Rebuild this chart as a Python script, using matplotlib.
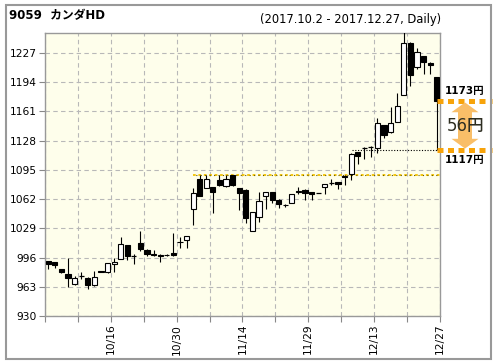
import matplotlib
matplotlib.use('Agg')
import matplotlib.pyplot as plt
import matplotlib.patches as mpatches
import numpy as np

dates = ['10/2', '10/3', '10/4', '10/5', '10/6', '10/10', '10/11', '10/12', '10/13',
         '10/16', '10/17', '10/18', '10/19', '10/20', '10/23', '10/24', '10/25', '10/26',
         '10/27', '10/30', '10/31', '11/1', '11/2', '11/6', '11/7', '11/8', '11/9',
         '11/10', '11/13', '11/14', '11/15', '11/16', '11/17', '11/20', '11/21', '11/22',
         '11/24', '11/27', '11/28', '11/29', '11/30', '12/1', '12/4', '12/5', '12/6',
         '12/7', '12/8', '12/11', '12/12', '12/13', '12/14', '12/15', '12/18', '12/19',
         '12/20', '12/21', '12/22', '12/25', '12/26', '12/27']
opens = [992, 990.5, 983, 977, 966, 975.5, 972.5, 964.5, 980.5, 979.5,
         988.5, 994, 1010.5, 998, 1012, 1004.5, 1000, 999, 999, 1001,
         1013, 1016, 1050.5, 1085, 1074.5, 1076, 1084, 1077, 1089, 1074.5,
         1072.5, 1026, 1042, 1066, 1070, 1061, 1055.5, 1057.5, 1071.5, 1072.5,
         1069.5, 1068.5, 1076, 1080, 1081, 1088.5, 1090, 1115.5, 1120, 1120.5,
         1120, 1145.5, 1137.5, 1149, 1179, 1238.5, 1211, 1223, 1216, 1200]
highs = [992.5, 991.5, 983.5, 996, 975.5, 979.5, 973.5, 981, 980.5, 990,
         995, 1019, 1010.5, 1000, 1026.5, 1005.5, 1004.5, 999.5, 999.5, 1024,
         1019.5, 1020.5, 1074.5, 1089, 1089, 1076, 1089, 1089, 1089.5, 1074.5,
         1073, 1047.5, 1069.5, 1070, 1070.5, 1061.5, 1056, 1068, 1076, 1073,
         1069.5, 1069, 1079.5, 1085, 1081.5, 1089, 1113.5, 1115.5, 1120.5, 1122,
         1154, 1146, 1166, 1181.5, 1262, 1239, 1233, 1223, 1217, 1200]
lows = [983, 984, 979, 962.5, 965.5, 972, 961, 963.5, 979.5, 979,
        980, 994, 993.5, 988.5, 1003, 998, 998, 991.5, 998, 998,
        1006.5, 1006.5, 1033, 1066, 1074, 1046, 1077, 1076, 1077, 1050,
        1035.5, 1025.5, 1036.5, 1050.5, 1058, 1052, 1053, 1057, 1067.5, 1061,
        1060.5, 1068.5, 1067.5, 1078, 1073, 1077.5, 1084, 1102, 1107, 1109.5,
        1113.5, 1131, 1137, 1148.5, 1179, 1189.5, 1208.5, 1203, 1203, 1117]
closes = [988.5, 987.5, 979.5, 972.5, 972.5, 975.5, 964.5, 974.5, 979.5, 989.5,
          991.5, 1011, 998, 998, 1005.5, 1000, 998.5, 998, 998.5, 998.5,
          1014, 1020.5, 1068.5, 1066, 1084.5, 1070.5, 1077.5, 1084.5, 1077.5, 1068.5,
          1041, 1047, 1060, 1070, 1060.5, 1056.5, 1055, 1067.5, 1069.5, 1068.5,
          1068, 1068.5, 1079, 1080, 1078.5, 1087, 1113, 1111, 1120, 1120.5,
          1147.5, 1134.5, 1147.5, 1167, 1238.5, 1202, 1228.5, 1217, 1213.5, 1173]

yticks = [930, 963, 996, 1029, 1062, 1095, 1128, 1161, 1194, 1227]
label_dates = ['10/16', '10/30', '11/14', '11/29', '12/13', '12/27']
resist_level = 1089.5
resist_start = 22
low_start = 46.1
last_close = 1173
last_low = 1117

FONT = ['DejaVu Sans', 'Noto Sans CJK JP']
plt.rcParams['font.family'] = FONT

W, H = 496, 364
fig = plt.figure(figsize=(W / 100, H / 100), dpi=100)
fig.patch.set_facecolor('white')
L, R, T, B = 45, 440, 32.5, 316
ax = fig.add_axes([L / W, 1 - B / H, (R - L) / W, (B - T) / H])
ax.set_facecolor('#FEFEEB')

n = len(dates)
x = np.arange(n)
o = np.array(opens); h = np.array(highs); l = np.array(lows); c = np.array(closes)

# grid
ax.set_ylim(930, 1250)
ax.set_xlim(-0.5, n - 0.5)
ax.set_yticks(yticks)
ax.set_yticklabels([str(v) for v in yticks])
xt = np.arange(-0.5, n, 5)
ax.set_xticks(xt)
lbl = []
for t in xt:
    i = int(t + 0.5) - 1
    d = dates[i] if i >= 0 else ''
    lbl.append(d if d in label_dates else '')
ax.set_xticklabels(lbl, rotation=90, ha='center', va='top')
ax.grid(True, linestyle=(0, (4, 3)), color='#b8b8b8', linewidth=0.8)
ax.set_axisbelow(True)
for s in ax.spines.values():
    s.set_color('#999999')
    s.set_linewidth(1.0)
ax.tick_params(axis='both', direction='out', length=4, width=0.8, color='#888888',
               labelsize=7.7, labelcolor='black')
ax.tick_params(axis='y', pad=2)
ax.tick_params(axis='x', pad=1.5)

# reference lines
ax.plot([resist_start, n - 0.5], [resist_level, resist_level], color='#F2C200',
        linestyle=(0, (1.5, 1.5)), linewidth=1.3, zorder=2, solid_capstyle='butt')
ax.plot([resist_start, n - 0.5], [resist_level, resist_level], color='#6a5a00',
        linestyle=(1.5, (1.0, 3.0)), linewidth=0.8, zorder=2)
ax.plot([low_start, n - 0.5], [last_low, last_low], color='black',
        linestyle=(0, (1, 1.5)), linewidth=0.8, zorder=2)

# candles
ax.vlines(x, l, h, color='black', linewidth=0.8, zorder=3)
wbody = 0.78
up = c >= o
bottoms = np.minimum(o, c)
heights = np.abs(c - o)
for i in range(n):
    if heights[i] < 0.3:
        ax.hlines(c[i], x[i] - wbody / 2, x[i] + wbody / 2, color='black',
                  linewidth=0.9, zorder=4)
    else:
        ax.bar(x[i], heights[i], bottom=bottoms[i], width=wbody,
               color='white' if up[i] else 'black', edgecolor='black',
               linewidth=0.8, zorder=4)

# right-side annotation
tr = ax.get_yaxis_transform()
def px2ax(px):
    return (px - L) / (R - L)
for lvl in (last_close, last_low):
    ax.plot([px2ax(437), px2ax(492)], [lvl, lvl], transform=tr, color='#F7A30A',
            linewidth=3.6, linestyle=(0, (1.2, 0.9)), clip_on=False, zorder=5,
            solid_capstyle='butt')
cx = px2ax(465)
hs = 7 / (R - L)
hh = 13.5 / (R - L)
hl = 11
top = last_close - 2
bot = last_low + 2
poly = [(cx, top), (cx + hh, top - hl), (cx + hs, top - hl), (cx + hs, bot + hl),
        (cx + hh, bot + hl), (cx, bot), (cx - hh, bot + hl), (cx - hs, bot + hl),
        (cx - hs, top - hl), (cx - hh, top - hl)]
arrow = mpatches.Polygon(poly, closed=True, transform=tr, facecolor='#F9BE68',
                         edgecolor='none', clip_on=False, zorder=5)
ax.add_patch(arrow)
diff = int(round(last_close - last_low))
ax.text(px2ax(466), (last_close + last_low) / 2, f'{diff}円', transform=tr,
        ha='center', va='center', fontsize=12, color='#2e2e22', fontweight='medium',
        clip_on=False, zorder=6, family=FONT)
fig.text(465 / W, 1 - 91 / H, f'{last_close}円', ha='center', va='center',
         fontsize=7.5, fontweight='bold', family=FONT)
fig.text(465 / W, 1 - 160 / H, f'{last_low}円', ha='center', va='center',
         fontsize=7.5, fontweight='bold', family=FONT)

# titles
fig.text(9 / W, 1 - 15.5 / H, '9059  カンダHD', ha='left', va='center',
         fontsize=8.5, fontweight='bold', family=FONT)
fig.text(441.5 / W, 1 - 19 / H, '(2017.10.2 - 2017.12.27, Daily)', ha='right',
         va='center', fontsize=8.3, family=FONT)

# figure border
fig.patches.append(mpatches.Rectangle((6 / W, 5 / H), 485 / W, 354 / H,
                                      transform=fig.transFigure, fill=False,
                                      edgecolor='#999999', linewidth=1.5))

fig.savefig('out.png', dpi=100)
